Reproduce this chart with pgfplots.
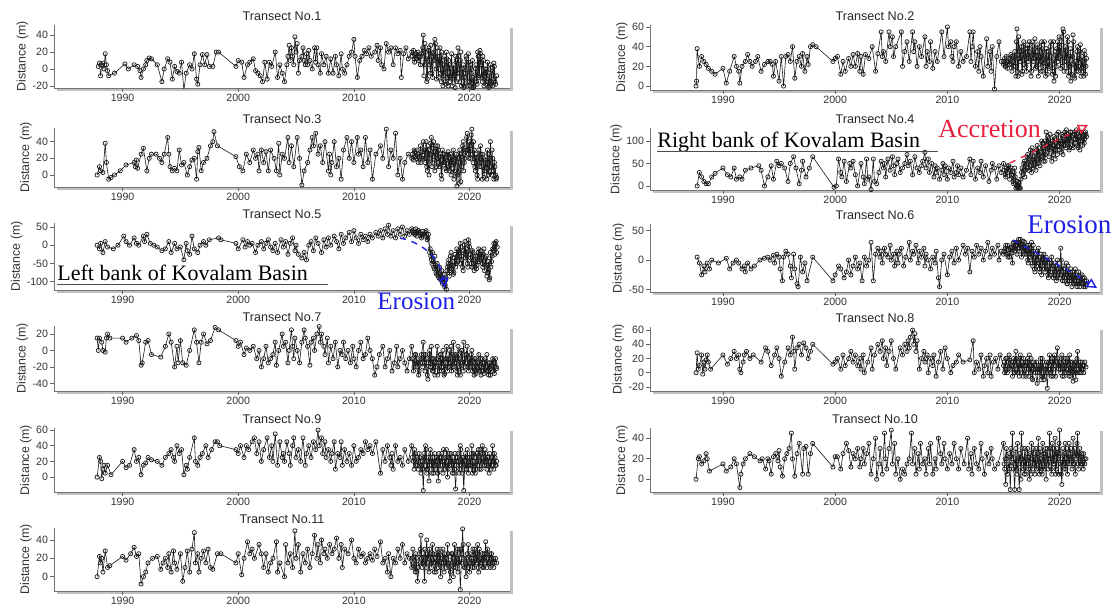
\documentclass[border=0pt]{standalone}
\usepackage{pgfplots}
\pgfplotsset{compat=1.18}
\usepackage{fontspec}
\setmainfont{Liberation Sans}
\newfontfamily\tnr{Liberation Serif}
\usetikzlibrary{shadows,arrows.meta}
\definecolor{erob}{RGB}{30,30,230}
\definecolor{accr}{RGB}{232,30,60}
\pgfplotsset{
  tr/.style={scale only axis, axis x line*=bottom, axis y line*=left,
    axis line style={black!55, line width=0.4pt},
    tick style={black!60, line width=0.3pt}, tick align=outside, major tick length=1.8pt,
    xtick={1990,2000,2010,2020},
    xticklabel style={/pgf/number format/1000 sep={}},
    /pgf/number format/assume math mode=true,
    tick label style={font=\fontsize{5.3}{6}\selectfont, inner sep=1pt, text=black!80},
    ylabel={Distance (m)},
    ylabel style={font=\fontsize{6.2}{7}\selectfont, inner sep=1pt, text=black!80},
    title style={font=\fontsize{6.3}{7}\selectfont, inner sep=1pt, text=black!85, yshift=-5.2pt},
    axis background/.style={fill=white, drop shadow={shadow xshift=1.3pt, shadow yshift=-1.3pt, opacity=0.45, fill=black!55}},
    anchor=south west},
  L/.style={tr, width=228pt, xmin=1984.07, xmax=2023.5},
  R/.style={tr, width=225pt, xmin=1983.5, xmax=2023.6},
  ser/.style={black!90, line width=0.3pt, mark=o, mark size=1.05pt, mark options={line width=0.35pt}}
}
\begin{document}
\begin{tikzpicture}
\path[use as bounding box] (0,0) rectangle (557.5pt,303.5pt);
% ---------- Transect 1
\begin{axis}[L, at={(27pt,259.5pt)}, height=31.5pt, ymin=-22.5, ymax=52, ytick={-20,0,20,40}, title={Transect No.1}]
\addplot[ser] coordinates {(1987.9,3)(1988.0,7)(1988.1,-8)(1988.2,5)(1988.3,7)(1988.4,0)(1988.5,18)(1988.6,5)(1988.7,-2)(1988.8,-8)(1989.3,-5)(1990.2,6)(1990.5,0)(1991.0,5)(1991.3,3)(1991.5,-2)(1991.6,-10)(1991.8,0)(1992.0,5)(1992.1,10)(1992.3,13)(1992.5,12)(1993.0,5)(1993.4,-15)(1993.6,0)(1993.9,12)(1994.1,8)(1994.3,-12)(1994.5,3)(1994.7,-3)(1994.9,-5)(1995.1,8)(1995.3,-25)(1995.5,-5)(1995.8,5)(1996.0,0)(1996.2,18)(1996.4,-12)(1996.5,-18)(1996.7,5)(1996.9,17)(1997.1,5)(1997.3,17)(1997.5,3)(1997.8,3)(1998.1,20)(1998.3,20)(1999.8,3)(2000.0,10)(2000.3,8)(2000.5,-10)(2000.8,5)(2001.0,8)(2001.3,12)(2001.5,-2)(2001.7,-5)(2001.9,-8)(2002.1,-15)(2002.3,8)(2002.5,-12)(2002.7,8)(2002.9,3)(2003.2,20)(2003.4,-10)(2003.6,5)(2003.8,-5)(2004.0,-15)(2004.2,5)(2004.3,15)(2004.4,28)(2004.5,10)(2004.6,25)(2004.7,15)(2004.8,5)(2004.9,38)(2005.0,20)(2005.1,30)(2005.2,-5)(2005.3,10)(2005.5,15)(2005.6,25)(2005.7,10)(2005.8,5)(2005.9,18)(2006.0,5)(2006.1,22)(2006.2,10)(2006.4,0)(2006.6,25)(2006.7,8)(2006.8,25)(2006.9,5)(2007.1,-5)(2007.2,18)(2007.4,5)(2007.6,15)(2007.8,-5)(2008.0,12)(2008.2,-5)(2008.4,15)(2008.5,5)(2008.7,-8)(2008.9,18)(2009.0,0)(2009.2,-5)(2009.4,5)(2009.6,15)(2009.8,20)(2010.0,35)(2010.1,15)(2010.3,-10)(2010.5,10)(2010.7,15)(2010.9,22)(2011.1,18)(2011.3,25)(2011.5,15)(2011.8,20)(2012.0,28)(2012.1,10)(2012.3,25)(2012.4,5)(2012.6,0)(2012.8,30)(2013.0,20)(2013.2,25)(2013.4,5)(2013.6,25)(2013.8,18)(2014.0,22)(2014.1,-10)(2014.3,18)(2014.5,25)(2014.7,12)(2015.0,20)(2015.2,12)(2015.4,18)(2015.6,10)(2015.8,15)(2016.0,40)(2016.1,5)(2016.2,20)(2016.3,-15)(2016.4,10)(2016.5,25)(2016.6,-5)(2016.7,15)(2016.8,-10)(2016.9,20)(2017.0,35)(2017.1,0)(2017.2,25)(2017.3,-10)(2017.4,15)(2017.5,-5)(2017.6,20)(2017.7,-20)(2017.8,5)(2017.9,-15)(2018.0,20)(2018.1,-10)(2018.2,10)(2018.3,-15)(2018.4,0)(2018.5,-20)(2018.6,5)(2018.7,-10)(2018.8,15)(2018.9,-15)(2019.0,25)(2019.1,-5)(2019.2,10)(2019.3,-20)(2019.4,0)(2019.5,-22)(2019.6,-10)(2019.7,15)(2019.8,-20)(2019.9,18)(2020.0,-15)(2020.1,5)(2020.2,-22)(2020.3,-10)(2020.4,-20)(2020.5,0)(2020.6,-15)(2020.7,20)(2020.8,-10)(2020.9,22)(2021.0,5)(2021.1,-15)(2021.2,10)(2021.3,-5)(2021.4,-18)(2021.5,0)(2021.6,-12)(2021.7,-20)(2021.8,5)(2021.9,-15)(2022.0,-20)(2022.1,7)(2022.2,-15)};
\addplot[ser] coordinates {(2015.05,15)(2015.15,22)(2015.25,8)(2015.35,18)(2015.45,12)(2015.55,20)(2015.65,14)(2015.75,5)(2015.85,18)(2015.95,25)(2016.05,-8)(2016.15,30)(2016.25,12)(2016.35,-12)(2016.45,22)(2016.55,5)(2016.65,28)(2016.75,-5)(2016.85,18)(2016.95,10)(2017.05,30)(2017.15,-12)(2017.25,15)(2017.35,5)(2017.45,25)(2017.55,-15)(2017.65,10)(2017.75,-8)(2017.85,15)(2017.95,-18)(2018.05,12)(2018.15,-20)(2018.25,5)(2018.35,-8)(2018.45,18)(2018.55,-12)(2018.65,0)(2018.75,-22)(2018.85,10)(2018.95,-5)(2019.05,15)(2019.15,-15)(2019.25,20)(2019.35,-10)(2019.45,5)(2019.55,-20)(2019.65,-5)(2019.75,12)(2019.85,-15)(2019.95,8)(2020.05,-20)(2020.15,-5)(2020.25,10)(2020.35,-22)(2020.45,-12)(2020.55,5)(2020.65,-18)(2020.75,15)(2020.85,-8)(2020.95,18)(2021.05,-10)(2021.15,15)(2021.25,-20)(2021.35,0)(2021.45,-15)(2021.55,8)(2021.65,-22)(2021.75,-5)(2021.85,-18)(2021.95,2)(2022.05,-12)(2022.15,3)(2022.25,-18)(2022.35,-8)};
\end{axis}
% ---------- Transect 3
\begin{axis}[L, at={(27pt,210pt)}, height=29.5pt, ymin=-14.4, ymax=56.4, ytick={0,20,40}, title={Transect No.3}]
\addplot[ser] coordinates {(1987.8,0)(1988.0,10)(1988.1,5)(1988.3,3)(1988.5,38)(1988.6,15)(1988.8,-5)(1989.0,-3)(1989.3,0)(1989.8,5)(1990.3,12)(1991.0,15)(1991.1,10)(1991.2,18)(1991.3,8)(1991.6,25)(1991.8,32)(1992.1,5)(1992.3,20)(1992.5,25)(1992.9,25)(1993.2,20)(1993.4,15)(1993.6,25)(1993.9,45)(1994.0,25)(1994.1,10)(1994.3,5)(1994.5,8)(1994.7,5)(1994.9,30)(1995.1,12)(1995.3,15)(1995.6,0)(1995.8,10)(1996.0,18)(1996.2,20)(1996.4,-5)(1996.5,28)(1996.6,33)(1996.8,5)(1997.0,15)(1997.3,20)(1997.6,35)(1997.8,40)(1997.9,52)(1998.2,35)(1999.8,22)(2000.1,10)(2000.4,5)(2000.7,25)(2001.0,15)(2001.3,30)(2001.5,20)(2001.7,25)(2001.8,5)(2002.0,30)(2002.2,15)(2002.4,28)(2002.6,5)(2002.8,30)(2003.1,20)(2003.3,5)(2003.5,38)(2003.6,0)(2003.8,25)(2004.0,20)(2004.3,45)(2004.4,15)(2004.6,35)(2004.8,10)(2005.1,45)(2005.3,20)(2005.5,-12)(2005.7,5)(2006.0,15)(2006.2,30)(2006.4,45)(2006.5,35)(2006.7,50)(2006.9,25)(2007.1,35)(2007.3,15)(2007.5,40)(2007.8,5)(2007.9,25)(2008.0,0)(2008.1,15)(2008.3,40)(2008.5,10)(2008.7,20)(2008.9,-5)(2009.1,30)(2009.4,45)(2009.6,20)(2009.8,40)(2010.0,15)(2010.3,45)(2010.4,25)(2010.6,30)(2010.8,10)(2011.0,45)(2011.2,15)(2011.4,30)(2011.6,-5)(2011.9,25)(2012.3,35)(2012.5,20)(2012.8,55)(2013.0,10)(2013.2,30)(2013.4,20)(2013.6,50)(2013.8,0)(2014.0,20)(2014.2,-5)(2014.4,15)(2014.7,25)(2015.0,20)(2015.2,30)(2015.4,20)(2015.6,25)(2015.8,15)(2016.0,40)(2016.1,20)(2016.2,30)(2016.3,10)(2016.4,35)(2016.5,0)(2016.6,25)(2016.7,45)(2016.8,15)(2016.9,40)(2017.0,5)(2017.1,35)(2017.2,20)(2017.3,30)(2017.4,10)(2017.5,25)(2017.6,-5)(2017.7,25)(2017.8,15)(2017.9,20)(2018.0,5)(2018.1,25)(2018.2,10)(2018.3,20)(2018.4,0)(2018.5,15)(2018.6,30)(2018.7,5)(2018.8,20)(2018.9,-13)(2019.0,20)(2019.1,-10)(2019.2,25)(2019.3,10)(2019.4,35)(2019.5,5)(2019.6,20)(2019.7,30)(2019.8,50)(2019.9,25)(2020.0,40)(2020.1,20)(2020.2,55)(2020.3,15)(2020.4,30)(2020.5,5)(2020.6,20)(2020.7,-5)(2020.8,30)(2020.9,10)(2021.0,25)(2021.1,-5)(2021.2,20)(2021.3,5)(2021.4,15)(2021.5,-5)(2021.6,25)(2021.7,5)(2021.8,40)(2021.9,0)(2022.0,20)(2022.1,-5)(2022.2,10)(2022.3,-5)};
\addplot[ser] coordinates {(2015.05,25)(2015.15,18)(2015.25,28)(2015.35,22)(2015.45,30)(2015.55,15)(2015.65,22)(2015.75,35)(2015.85,20)(2015.95,28)(2016.05,30)(2016.15,15)(2016.25,40)(2016.35,5)(2016.45,30)(2016.55,20)(2016.65,38)(2016.75,10)(2016.85,32)(2016.95,22)(2017.05,28)(2017.15,10)(2017.25,35)(2017.35,15)(2017.45,22)(2017.55,0)(2017.65,30)(2017.75,12)(2017.85,25)(2017.95,8)(2018.05,18)(2018.15,28)(2018.25,5)(2018.35,25)(2018.45,12)(2018.55,22)(2018.65,-5)(2018.75,18)(2018.85,25)(2018.95,0)(2019.05,15)(2019.15,30)(2019.25,-8)(2019.35,22)(2019.45,40)(2019.55,15)(2019.65,28)(2019.75,45)(2019.85,30)(2019.95,20)(2020.05,35)(2020.15,48)(2020.25,25)(2020.35,40)(2020.45,10)(2020.55,25)(2020.65,0)(2020.75,22)(2020.85,15)(2020.95,35)(2021.05,10)(2021.15,25)(2021.25,-3)(2021.35,18)(2021.45,8)(2021.55,30)(2021.65,0)(2021.75,20)(2021.85,10)(2021.95,30)(2022.05,5)(2022.15,15)(2022.25,0)(2022.35,-3)};
\end{axis}
% ---------- Transect 5
\begin{axis}[L, at={(27pt,158.5pt)}, height=33.5pt, ymin=-123, ymax=61, ytick={-100,-50,0,50}, title={Transect No.5}]
\addplot[ser] coordinates {(1987.8,0)(1988.0,-10)(1988.1,5)(1988.3,-20)(1988.5,10)(1988.7,-5)(1989.2,-10)(1989.6,0)(1990.1,25)(1990.3,10)(1990.6,0)(1991.0,20)(1991.2,5)(1991.4,0)(1991.8,25)(1991.9,10)(1992.1,30)(1992.4,5)(1992.7,0)(1993.0,-5)(1993.4,-15)(1993.7,-10)(1994.0,10)(1994.2,-20)(1994.5,5)(1994.7,-10)(1995.0,-5)(1995.3,-40)(1995.5,5)(1995.6,-15)(1995.8,-25)(1996.0,25)(1996.2,-10)(1996.5,-20)(1996.7,0)(1997.0,10)(1997.2,0)(1997.5,15)(1998.3,20)(1998.5,15)(1999.8,5)(2000.0,-10)(2000.4,15)(2000.6,-5)(2000.8,10)(2001.0,0)(2001.2,5)(2001.5,-20)(2001.7,0)(2002.0,10)(2002.2,-10)(2002.4,5)(2002.6,15)(2002.8,-5)(2003.0,-15)(2003.2,5)(2003.4,-20)(2003.7,15)(2003.9,-5)(2004.1,10)(2004.3,-25)(2004.5,5)(2004.7,20)(2004.9,-15)(2005.0,0)(2005.2,-25)(2005.5,-35)(2005.7,-20)(2005.9,-40)(2006.1,0)(2006.3,10)(2006.5,-15)(2006.7,20)(2006.9,5)(2007.2,-20)(2007.4,15)(2007.6,-5)(2007.8,20)(2008.0,0)(2008.3,25)(2008.5,10)(2008.7,-10)(2008.9,30)(2009.1,5)(2009.3,20)(2009.6,35)(2009.8,10)(2010.0,40)(2010.2,20)(2010.4,5)(2010.6,30)(2010.8,15)(2011.0,25)(2011.2,10)(2011.4,30)(2011.6,20)(2011.9,35)(2012.1,25)(2012.3,40)(2012.5,20)(2012.7,45)(2012.9,30)(2013.0,55)(2013.2,25)(2013.4,40)(2013.6,20)(2013.8,45)(2014.0,30)(2014.2,50)(2014.4,25)(2014.6,40)(2014.8,30)(2015.0,45)(2015.3,30)(2015.6,40)(2015.9,25)(2016.2,35)(2016.4,20)(2016.6,-10)(2016.7,-40)(2016.8,-20)(2016.9,-60)(2017.0,-30)(2017.1,-75)(2017.2,-50)(2017.3,-85)(2017.4,-60)(2017.5,-95)(2017.6,-70)(2017.7,-100)(2017.8,-80)(2017.9,-110)(2018.0,-121)(2018.1,-60)(2018.2,-40)(2018.3,-70)(2018.4,-20)(2018.5,-55)(2018.6,-80)(2018.7,-35)(2018.8,-60)(2018.9,-10)(2019.0,-45)(2019.1,-20)(2019.2,5)(2019.3,-30)(2019.4,-60)(2019.5,-15)(2019.6,10)(2019.7,-25)(2019.8,-50)(2019.9,15)(2020.0,-5)(2020.1,-35)(2020.2,-60)(2020.3,-20)(2020.4,-70)(2020.5,-45)(2020.6,-65)(2020.7,-30)(2020.8,-10)(2020.9,-40)(2021.0,-15)(2021.1,-50)(2021.2,-25)(2021.3,-70)(2021.4,-35)(2021.5,-85)(2021.6,-55)(2021.7,-95)(2021.8,-20)(2021.9,-45)(2022.0,-10)(2022.1,5)(2022.2,-25)(2022.3,10)(2022.4,-5)};
\addplot[ser] coordinates {(2015.05,40)(2015.15,35)(2015.25,30)(2015.35,45)(2015.45,25)(2015.55,40)(2015.65,35)(2015.75,30)(2015.85,20)(2015.95,38)(2016.05,30)(2016.15,25)(2016.25,40)(2016.35,15)(2016.45,30)(2016.55,-20)(2016.65,-30)(2016.75,-50)(2016.85,-45)(2016.95,-65)(2017.05,-55)(2017.15,-80)(2017.25,-65)(2017.35,-90)(2017.45,-75)(2017.55,-85)(2017.65,-105)(2017.75,-90)(2017.85,-115)(2017.95,-95)(2018.05,-70)(2018.15,-50)(2018.25,-85)(2018.35,-30)(2018.45,-65)(2018.55,-45)(2018.65,-75)(2018.75,-25)(2018.85,-50)(2018.95,-30)(2019.05,-15)(2019.15,-50)(2019.25,-5)(2019.35,-40)(2019.45,-70)(2019.55,0)(2019.65,-35)(2019.75,-10)(2019.85,-60)(2019.95,5)(2020.05,-25)(2020.15,-50)(2020.25,-15)(2020.35,-40)(2020.45,-60)(2020.55,-30)(2020.65,-55)(2020.75,-20)(2020.85,-45)(2020.95,-25)(2021.05,-35)(2021.15,-60)(2021.25,-10)(2021.35,-55)(2021.45,-30)(2021.55,-75)(2021.65,-45)(2021.75,-90)(2021.85,-60)(2021.95,-30)(2022.05,-15)(2022.15,-5)(2022.25,5)(2022.35,-20)};
\end{axis}
% ---------- Transect 7
\begin{axis}[L, at={(27pt,108pt)}, height=32.5pt, ymin=-49.3, ymax=29.7, ytick={-40,-20,0,20}, title={Transect No.7}]
\addplot[ser] coordinates {(1987.8,15)(1987.9,0)(1988.0,15)(1988.2,10)(1988.3,0)(1988.5,-2)(1988.6,15)(1988.7,20)(1988.9,15)(1990.0,15)(1990.3,10)(1990.8,15)(1991.2,18)(1991.4,12)(1991.6,-18)(1991.7,-15)(1992.0,10)(1992.2,12)(1992.5,-5)(1993.3,-8)(1993.7,5)(1994.0,20)(1994.2,10)(1994.5,-20)(1994.7,5)(1994.8,-15)(1995.0,12)(1995.2,-15)(1995.5,-18)(1995.8,0)(1996.2,25)(1996.4,10)(1996.6,-15)(1996.8,10)(1997.0,20)(1997.3,8)(1997.6,12)(1998.0,28)(1998.3,25)(1999.8,12)(2000.0,5)(2000.2,10)(2000.5,-5)(2000.7,3)(2001.0,0)(2001.3,5)(2001.6,-10)(2001.8,0)(2002.0,-20)(2002.2,-10)(2002.4,5)(2002.6,-15)(2002.8,-10)(2003.0,-5)(2003.2,10)(2003.3,-18)(2003.5,0)(2003.8,20)(2003.9,5)(2004.1,10)(2004.3,-15)(2004.4,0)(2004.6,25)(2004.7,5)(2004.8,-10)(2004.9,15)(2005.1,0)(2005.3,-15)(2005.5,10)(2005.7,25)(2005.8,15)(2006.0,5)(2006.2,-18)(2006.3,10)(2006.5,15)(2006.6,0)(2006.8,20)(2007.0,29)(2007.1,10)(2007.2,20)(2007.4,5)(2007.5,-5)(2007.7,15)(2007.8,-15)(2008.0,5)(2008.2,-10)(2008.4,10)(2008.6,-20)(2008.8,0)(2009.0,-5)(2009.1,10)(2009.3,-10)(2009.5,0)(2009.7,-15)(2009.9,5)(2010.0,-10)(2010.2,-20)(2010.4,0)(2010.6,10)(2010.8,-10)(2011.0,-5)(2011.2,15)(2011.4,0)(2011.6,-10)(2011.8,-30)(2012.0,-20)(2012.2,-5)(2012.5,5)(2012.7,-20)(2012.9,-10)(2013.1,0)(2013.3,-25)(2013.5,-15)(2013.7,5)(2013.8,-20)(2014.0,-10)(2014.2,0)(2014.4,-15)(2014.6,-25)(2014.8,-10)(2015.0,5)(2015.2,-20)(2015.3,-5)(2015.5,-15)(2015.6,-30)(2015.8,-10)(2016.0,10)(2016.1,-15)(2016.2,-5)(2016.4,-35)(2016.5,-5)(2016.6,-20)(2016.7,5)(2016.8,-25)(2016.9,-10)(2017.0,-30)(2017.2,5)(2017.3,-15)(2017.4,-25)(2017.5,-5)(2017.6,-20)(2017.7,0)(2017.8,-30)(2017.9,-10)(2018.0,5)(2018.1,-25)(2018.2,-10)(2018.3,-15)(2018.4,5)(2018.5,-20)(2018.6,10)(2018.7,-15)(2018.8,-5)(2018.9,-25)(2019.0,5)(2019.1,-10)(2019.2,-30)(2019.3,0)(2019.4,-15)(2019.5,10)(2019.6,-20)(2019.7,-5)(2019.8,5)(2019.9,-25)(2020.0,-10)(2020.1,-15)(2020.2,0)(2020.3,-20)(2020.4,-30)(2020.5,-10)(2020.6,-25)(2020.7,-15)(2020.8,-5)(2020.9,-20)(2021.0,-30)(2021.1,-10)(2021.2,-25)(2021.3,-15)(2021.4,-20)(2021.5,-5)(2021.6,-25)(2021.7,-15)(2021.8,-30)(2021.9,-20)(2022.0,-10)(2022.1,-25)(2022.2,-15)(2022.3,-20)};
\addplot[ser] coordinates {(2015.05,-10)(2015.15,-25)(2015.25,-15)(2015.35,-5)(2015.45,-20)(2015.55,-10)(2015.65,-25)(2015.75,-15)(2015.85,-5)(2015.95,-20)(2016.05,-5)(2016.15,-25)(2016.25,-10)(2016.35,-30)(2016.45,-15)(2016.55,0)(2016.65,-20)(2016.75,-10)(2016.85,-25)(2016.95,-15)(2017.05,-20)(2017.15,-10)(2017.25,-30)(2017.35,-15)(2017.45,-5)(2017.55,-25)(2017.65,-10)(2017.75,-20)(2017.85,-28)(2017.95,-15)(2018.05,-10)(2018.15,-20)(2018.25,0)(2018.35,-15)(2018.45,-25)(2018.55,-5)(2018.65,-20)(2018.75,-10)(2018.85,-15)(2018.95,-30)(2019.05,-5)(2019.15,-20)(2019.25,-15)(2019.35,0)(2019.45,-25)(2019.55,-10)(2019.65,-15)(2019.75,-5)(2019.85,-20)(2019.95,-10)(2020.05,-20)(2020.15,-5)(2020.25,-25)(2020.35,-15)(2020.45,-10)(2020.55,-28)(2020.65,-20)(2020.75,-15)(2020.85,-25)(2020.95,-10)(2021.05,-20)(2021.15,-15)(2021.25,-28)(2021.35,-10)(2021.45,-25)(2021.55,-20)(2021.65,-30)(2021.75,-15)(2021.85,-22)(2021.95,-18)(2022.05,-15)(2022.15,-28)(2022.25,-10)(2022.35,-22)};
\end{axis}
% ---------- Transect 9
\begin{axis}[L, at={(27pt,57.5pt)}, height=32pt, ymin=-19, ymax=62.5, ytick={0,20,40,60}, title={Transect No.9}]
\addplot[ser] coordinates {(1987.8,0)(1988.0,25)(1988.1,20)(1988.2,-2)(1988.3,10)(1988.4,15)(1988.5,5)(1988.7,15)(1989.0,3)(1990.0,20)(1990.3,12)(1990.6,15)(1991.0,35)(1991.2,20)(1991.4,25)(1991.6,3)(1991.8,15)(1992.0,18)(1992.2,25)(1992.5,22)(1993.0,20)(1993.4,15)(1993.7,25)(1994.0,30)(1994.2,35)(1994.4,25)(1994.5,20)(1994.7,40)(1994.9,30)(1995.1,35)(1995.3,3)(1995.5,15)(1995.6,10)(1995.8,25)(1996.2,50)(1996.3,20)(1996.5,15)(1996.7,25)(1996.9,30)(1997.2,40)(1997.4,25)(1997.7,35)(1998.0,45)(1998.2,45)(1998.4,40)(1999.8,35)(2000.0,30)(2000.2,40)(2000.5,25)(2000.7,40)(2000.9,35)(2001.2,45)(2001.4,50)(2001.6,30)(2001.8,45)(2002.0,20)(2002.2,35)(2002.5,50)(2002.7,25)(2002.9,40)(2003.0,20)(2003.2,55)(2003.4,15)(2003.6,45)(2003.8,25)(2003.9,30)(2004.0,20)(2004.2,45)(2004.4,30)(2004.5,15)(2004.7,40)(2004.8,50)(2005.0,25)(2005.2,35)(2005.4,20)(2005.6,50)(2005.8,15)(2005.9,30)(2006.1,40)(2006.3,25)(2006.5,45)(2006.7,35)(2006.9,60)(2007.0,40)(2007.2,50)(2007.3,30)(2007.5,45)(2007.6,25)(2007.8,35)(2008.0,20)(2008.1,30)(2008.3,45)(2008.4,10)(2008.6,30)(2008.8,25)(2008.9,45)(2009.0,15)(2009.2,35)(2009.4,20)(2009.6,30)(2009.8,15)(2010.0,40)(2010.2,20)(2010.4,25)(2010.6,35)(2010.8,30)(2011.0,45)(2011.2,35)(2011.4,40)(2011.6,30)(2011.9,45)(2012.3,5)(2012.5,35)(2012.7,20)(2012.9,40)(2013.1,25)(2013.2,15)(2013.3,30)(2013.4,10)(2013.6,40)(2013.8,20)(2014.0,25)(2014.2,15)(2014.4,35)(2014.7,20)(2015.0,40)(2015.2,10)(2015.3,30)(2015.5,15)(2015.7,25)(2015.8,5)(2015.9,20)(2016.0,-17)(2016.1,25)(2016.2,40)(2016.3,5)(2016.4,20)(2016.5,-5)(2016.6,35)(2016.7,15)(2016.8,25)(2016.9,5)(2017.0,30)(2017.1,10)(2017.2,20)(2017.3,-5)(2017.4,25)(2017.5,15)(2017.6,30)(2017.7,5)(2017.8,20)(2017.9,10)(2018.0,35)(2018.1,0)(2018.2,25)(2018.3,15)(2018.4,30)(2018.5,5)(2018.6,20)(2018.7,10)(2018.8,-15)(2018.9,20)(2019.0,30)(2019.1,5)(2019.2,40)(2019.3,15)(2019.4,25)(2019.5,-17)(2019.6,20)(2019.7,10)(2019.8,35)(2019.9,5)(2020.0,25)(2020.1,15)(2020.2,40)(2020.3,10)(2020.4,20)(2020.5,5)(2020.6,30)(2020.7,15)(2020.8,25)(2020.9,35)(2021.0,10)(2021.1,40)(2021.2,20)(2021.3,15)(2021.4,30)(2021.5,10)(2021.6,25)(2021.7,5)(2021.8,20)(2021.9,15)(2022.0,40)(2022.1,10)(2022.2,25)(2022.3,15)};
\addplot[ser] coordinates {(2015.05,25)(2015.15,20)(2015.25,35)(2015.35,15)(2015.45,25)(2015.55,10)(2015.65,30)(2015.75,20)(2015.85,15)(2015.95,10)(2016.05,30)(2016.15,15)(2016.25,35)(2016.35,10)(2016.45,25)(2016.55,15)(2016.65,30)(2016.75,5)(2016.85,20)(2016.95,15)(2017.05,20)(2017.15,25)(2017.25,5)(2017.35,30)(2017.45,10)(2017.55,25)(2017.65,20)(2017.75,35)(2017.85,15)(2017.95,25)(2018.05,20)(2018.15,10)(2018.25,30)(2018.35,20)(2018.45,15)(2018.55,25)(2018.65,5)(2018.75,30)(2018.85,15)(2018.95,25)(2019.05,20)(2019.15,10)(2019.25,35)(2019.35,5)(2019.45,25)(2019.55,15)(2019.65,30)(2019.75,10)(2019.85,25)(2019.95,15)(2020.05,15)(2020.15,30)(2020.25,5)(2020.35,30)(2020.45,25)(2020.55,10)(2020.65,20)(2020.75,35)(2020.85,10)(2020.95,20)(2021.05,25)(2021.15,30)(2021.25,15)(2021.35,35)(2021.45,20)(2021.55,25)(2021.65,15)(2021.75,30)(2021.85,10)(2021.95,25)(2022.05,20)(2022.15,30)(2022.25,15)(2022.35,20)};
\end{axis}
% ---------- Transect 11
\begin{axis}[L, at={(27pt,8pt)}, height=31.5pt, ymin=-15.6, ymax=53, ytick={0,20,40}, title={Transect No.11}]
\addplot[ser] coordinates {(1987.8,0)(1988.0,22)(1988.1,15)(1988.2,20)(1988.3,5)(1988.5,28)(1988.7,10)(1988.9,12)(1990.0,22)(1990.3,18)(1990.7,25)(1991.0,32)(1991.2,22)(1991.4,25)(1991.6,-8)(1991.8,0)(1992.0,5)(1992.2,15)(1992.6,20)(1993.0,22)(1993.3,8)(1993.5,15)(1993.7,20)(1993.9,10)(1994.0,25)(1994.2,5)(1994.4,28)(1994.5,15)(1994.7,8)(1995.0,25)(1995.2,-5)(1995.4,10)(1995.6,28)(1995.8,5)(1996.0,30)(1996.2,48)(1996.3,15)(1996.5,25)(1996.6,5)(1996.8,20)(1997.0,28)(1997.2,15)(1997.4,30)(1997.6,10)(1997.8,8)(1998.2,25)(1998.5,25)(1999.8,15)(2000.0,25)(2000.3,2)(2000.5,20)(2000.8,38)(2001.0,25)(2001.2,30)(2001.4,20)(2001.8,35)(2002.0,25)(2002.2,10)(2002.4,25)(2002.6,5)(2002.8,15)(2003.0,20)(2003.3,38)(2003.4,5)(2003.6,15)(2004.0,0)(2004.1,35)(2004.3,15)(2004.5,25)(2004.7,10)(2004.9,50)(2005.0,20)(2005.2,35)(2005.4,5)(2005.6,25)(2005.8,15)(2006.0,30)(2006.2,10)(2006.4,25)(2006.6,45)(2006.8,20)(2006.9,35)(2007.1,15)(2007.2,40)(2007.4,25)(2007.5,30)(2007.7,20)(2007.9,35)(2008.1,25)(2008.3,30)(2008.5,42)(2008.7,20)(2008.9,35)(2009.0,10)(2009.2,30)(2009.5,25)(2009.8,40)(2010.0,20)(2010.2,15)(2010.4,30)(2010.6,22)(2010.8,25)(2011.0,15)(2011.2,20)(2011.4,25)(2011.6,18)(2011.8,30)(2012.0,22)(2012.3,38)(2012.5,15)(2012.7,20)(2012.9,5)(2013.0,25)(2013.2,0)(2013.4,20)(2013.6,15)(2013.8,30)(2014.0,20)(2014.2,35)(2014.4,15)(2014.6,25)(2014.8,20)(2015.0,10)(2015.1,30)(2015.3,5)(2015.4,20)(2015.5,-5)(2015.7,15)(2015.8,45)(2015.9,10)(2016.0,25)(2016.1,-5)(2016.2,20)(2016.3,40)(2016.4,15)(2016.5,5)(2016.6,25)(2016.7,10)(2016.8,35)(2016.9,15)(2017.0,20)(2017.1,5)(2017.2,30)(2017.3,10)(2017.4,25)(2017.5,0)(2017.6,15)(2017.7,30)(2017.8,5)(2017.9,20)(2018.0,10)(2018.1,35)(2018.2,15)(2018.3,-5)(2018.4,15)(2018.5,25)(2018.6,0)(2018.7,35)(2018.8,10)(2018.9,20)(2019.0,5)(2019.1,30)(2019.2,-14)(2019.3,15)(2019.4,52)(2019.5,20)(2019.6,10)(2019.7,0)(2019.8,25)(2019.9,35)(2020.0,5)(2020.1,15)(2020.2,20)(2020.3,30)(2020.4,10)(2020.5,25)(2020.6,15)(2020.7,35)(2020.8,5)(2020.9,20)(2021.0,15)(2021.1,25)(2021.2,10)(2021.3,20)(2021.4,38)(2021.5,10)(2021.6,20)(2021.7,15)(2021.8,10)(2021.9,25)(2022.0,15)(2022.1,10)};
\addplot[ser] coordinates {(2015.05,20)(2015.15,15)(2015.25,10)(2015.35,25)(2015.45,5)(2015.55,10)(2015.65,25)(2015.75,30)(2015.85,20)(2015.95,15)(2016.05,15)(2016.15,30)(2016.25,10)(2016.35,25)(2016.45,20)(2016.55,30)(2016.65,15)(2016.75,20)(2016.85,25)(2016.95,5)(2017.05,15)(2017.15,25)(2017.25,15)(2017.35,20)(2017.45,30)(2017.55,10)(2017.65,20)(2017.75,15)(2017.85,25)(2017.95,15)(2018.05,20)(2018.15,25)(2018.25,10)(2018.35,5)(2018.45,25)(2018.55,20)(2018.65,10)(2018.75,25)(2018.85,15)(2018.95,30)(2019.05,15)(2019.15,20)(2019.25,30)(2019.35,25)(2019.45,35)(2019.55,10)(2019.65,15)(2019.75,20)(2019.85,10)(2019.95,15)(2020.05,25)(2020.15,20)(2020.25,10)(2020.35,15)(2020.45,30)(2020.55,20)(2020.65,25)(2020.75,10)(2020.85,30)(2020.95,15)(2021.05,20)(2021.15,10)(2021.25,25)(2021.35,15)(2021.45,25)(2021.55,30)(2021.65,15)(2021.75,25)(2021.85,20)(2021.95,15)(2022.05,20)(2022.15,15)(2022.25,20)(2022.35,15)};
\end{axis}
% ---------- Transect 2
\begin{axis}[R, at={(325pt,258.5pt)}, height=32.5pt, ymin=-4, ymax=62, ytick={0,20,40,60}, title={Transect No.2}]
\addplot[ser] coordinates {(1987.6,0)(1987.65,5)(1987.7,38)(1987.9,20)(1988.1,30)(1988.3,25)(1988.5,22)(1988.7,18)(1989.0,15)(1989.3,12)(1990.0,18)(1990.3,3)(1990.6,15)(1991.0,30)(1991.2,20)(1991.4,15)(1991.5,3)(1991.7,20)(1992.0,25)(1992.2,32)(1992.4,25)(1992.6,20)(1992.9,25)(1993.1,30)(1993.4,15)(1993.7,22)(1994.0,25)(1994.2,25)(1994.4,22)(1994.5,10)(1994.7,25)(1995.0,5)(1995.2,30)(1995.4,0)(1995.6,30)(1995.8,32)(1996.0,25)(1996.2,40)(1996.4,8)(1996.6,25)(1996.8,30)(1997.0,20)(1997.1,33)(1997.3,15)(1997.5,30)(1997.6,22)(1997.8,40)(1998.0,42)(1998.3,40)(1999.8,25)(2000.0,28)(2000.2,30)(2000.5,12)(2000.7,25)(2000.9,15)(2001.2,28)(2001.4,20)(2001.6,32)(2001.8,20)(2002.0,33)(2002.2,15)(2002.3,30)(2002.5,12)(2002.7,32)(2003.0,28)(2003.3,40)(2003.6,15)(2003.8,33)(2004.1,55)(2004.2,30)(2004.3,35)(2004.5,25)(2004.8,55)(2004.9,40)(2005.1,50)(2005.2,30)(2005.4,40)(2005.9,55)(2006.0,20)(2006.2,35)(2006.4,45)(2006.6,25)(2006.9,55)(2007.0,35)(2007.1,45)(2007.3,20)(2007.5,40)(2007.7,30)(2008.0,50)(2008.1,20)(2008.2,35)(2008.4,25)(2008.5,45)(2008.7,18)(2008.9,35)(2009.1,25)(2009.5,55)(2009.7,30)(2010.0,60)(2010.1,40)(2010.3,45)(2010.4,30)(2010.5,25)(2010.6,40)(2010.8,45)(2011.0,20)(2011.2,35)(2011.4,25)(2011.7,30)(2012.0,55)(2012.1,25)(2012.2,40)(2012.3,55)(2012.5,20)(2012.7,35)(2012.8,15)(2012.9,40)(2013.0,30)(2013.2,10)(2013.5,48)(2013.6,20)(2013.8,35)(2013.9,15)(2014.0,40)(2014.2,-3)(2014.4,30)(2014.6,45)(2014.8,25)(2015.0,22)(2015.1,28)(2015.2,20)(2015.4,25)(2015.5,22)(2015.7,30)(2015.9,20)(2016.0,35)(2016.1,10)(2016.2,58)(2016.3,10)(2016.4,35)(2016.5,25)(2016.6,40)(2016.7,15)(2016.8,45)(2016.9,30)(2017.0,20)(2017.1,38)(2017.2,25)(2017.3,45)(2017.4,30)(2017.5,15)(2017.6,40)(2017.7,28)(2017.8,48)(2017.9,20)(2018.0,35)(2018.1,10)(2018.2,40)(2018.3,25)(2018.4,45)(2018.5,15)(2018.6,30)(2018.7,20)(2018.8,38)(2018.9,12)(2019.0,35)(2019.1,20)(2019.2,45)(2019.3,25)(2019.4,15)(2019.5,5)(2019.6,35)(2019.7,20)(2019.8,45)(2019.9,28)(2020.0,40)(2020.1,18)(2020.2,50)(2020.3,58)(2020.4,15)(2020.5,40)(2020.6,25)(2020.7,50)(2020.8,10)(2020.9,30)(2021.0,5)(2021.1,22)(2021.2,52)(2021.3,10)(2021.4,25)(2021.5,15)(2021.6,40)(2021.7,20)(2021.8,35)(2021.9,10)(2022.0,30)(2022.1,15)(2022.2,36)(2022.3,12)(2022.4,28)};
\addplot[ser] coordinates {(2015.05,25)(2015.15,20)(2015.25,30)(2015.35,18)(2015.45,28)(2015.55,22)(2015.65,32)(2015.75,15)(2015.85,25)(2015.95,30)(2016.05,20)(2016.15,45)(2016.25,15)(2016.35,50)(2016.45,28)(2016.55,35)(2016.65,12)(2016.75,40)(2016.85,22)(2016.95,38)(2017.05,15)(2017.15,42)(2017.25,28)(2017.35,35)(2017.45,10)(2017.55,45)(2017.65,25)(2017.75,38)(2017.85,18)(2017.95,30)(2018.05,42)(2018.15,22)(2018.25,30)(2018.35,15)(2018.45,38)(2018.55,28)(2018.65,45)(2018.75,10)(2018.85,35)(2018.95,25)(2019.05,18)(2019.15,40)(2019.25,30)(2019.35,12)(2019.45,45)(2019.55,22)(2019.65,10)(2019.75,38)(2019.85,25)(2019.95,50)(2020.05,30)(2020.15,45)(2020.25,20)(2020.35,55)(2020.45,25)(2020.55,35)(2020.65,15)(2020.75,45)(2020.85,20)(2020.95,38)(2021.05,12)(2021.15,30)(2021.25,45)(2021.35,8)(2021.45,20)(2021.55,35)(2021.65,15)(2021.75,28)(2021.85,42)(2021.95,18)(2022.05,25)(2022.15,10)(2022.25,32)(2022.35,20)};
\end{axis}
% ---------- Transect 4
\begin{axis}[R, at={(325pt,208.5pt)}, height=31pt, ymin=-9, ymax=129, ytick={0,50,100}, title={Transect No.4}]
\addplot[ser] coordinates {(1987.7,0)(1987.9,30)(1988.1,20)(1988.3,10)(1988.5,5)(1988.7,5)(1989.0,20)(1989.3,28)(1990.0,40)(1990.4,25)(1990.7,20)(1991.0,40)(1991.2,15)(1991.5,20)(1991.7,15)(1992.0,35)(1992.5,40)(1993.2,45)(1993.4,35)(1993.7,0)(1994.0,20)(1994.3,45)(1994.5,15)(1994.8,55)(1995.0,45)(1995.2,50)(1995.5,40)(1995.8,10)(1996.0,50)(1996.3,65)(1996.5,40)(1996.8,5)(1997.0,35)(1997.1,55)(1997.4,20)(1997.7,40)(1998.0,65)(1999.9,-3)(2000.1,0)(2000.3,60)(2000.5,30)(2000.6,20)(2000.8,55)(2001.0,10)(2001.3,50)(2001.4,40)(2001.6,55)(2001.8,25)(2002.0,0)(2002.3,50)(2002.5,20)(2002.6,5)(2002.8,60)(2002.9,15)(2003.0,20)(2003.2,-8)(2003.4,60)(2003.5,10)(2003.7,5)(2003.9,30)(2004.1,55)(2004.3,40)(2004.4,50)(2004.5,20)(2004.7,60)(2004.9,35)(2005.1,65)(2005.2,45)(2005.3,25)(2005.5,50)(2005.6,60)(2005.8,30)(2006.0,40)(2006.2,50)(2006.4,70)(2006.5,45)(2006.7,55)(2006.9,25)(2007.1,65)(2007.3,40)(2007.5,30)(2007.7,45)(2007.8,55)(2008.0,75)(2008.1,40)(2008.3,60)(2008.4,30)(2008.6,50)(2008.8,20)(2008.9,45)(2009.0,30)(2009.1,40)(2009.3,15)(2009.5,35)(2009.6,50)(2009.7,25)(2009.8,45)(2010.0,15)(2010.1,40)(2010.3,30)(2010.5,55)(2010.6,20)(2010.8,30)(2010.9,45)(2011.0,25)(2011.2,40)(2011.4,20)(2011.7,35)(2012.0,60)(2012.1,25)(2012.3,55)(2012.5,15)(2012.7,40)(2012.9,30)(2013.0,55)(2013.2,20)(2013.4,45)(2013.7,10)(2013.9,35)(2014.0,50)(2014.2,40)(2014.4,15)(2014.6,45)(2014.8,30)(2015.0,50)(2015.2,20)(2015.4,45)(2015.6,35)(2015.9,5)(2016.0,40)(2016.1,-5)(2016.2,10)(2016.3,-5)(2016.4,5)(2016.5,-5)(2016.6,30)(2016.8,50)(2016.9,20)(2017.1,65)(2017.2,40)(2017.4,80)(2017.5,30)(2017.6,60)(2017.7,45)(2017.8,75)(2017.9,35)(2018.0,90)(2018.1,50)(2018.2,70)(2018.3,60)(2018.4,100)(2018.5,65)(2018.6,85)(2018.7,55)(2018.8,120)(2018.9,75)(2019.0,105)(2019.1,80)(2019.2,95)(2019.3,55)(2019.4,90)(2019.5,110)(2019.6,60)(2019.7,95)(2019.8,70)(2019.9,120)(2020.0,80)(2020.1,100)(2020.2,115)(2020.3,70)(2020.4,105)(2020.5,90)(2020.6,125)(2020.7,95)(2020.8,110)(2020.9,85)(2021.0,120)(2021.1,100)(2021.2,85)(2021.3,115)(2021.4,105)(2021.5,125)(2021.6,90)(2021.7,110)(2021.8,80)(2021.9,120)(2022.0,100)(2022.1,115)(2022.2,95)(2022.3,120)(2022.4,110)};
\addplot[ser] coordinates {(2015.05,35)(2015.15,25)(2015.25,40)(2015.35,30)(2015.45,45)(2015.55,15)(2015.65,40)(2015.75,25)(2015.85,10)(2015.95,30)(2016.05,20)(2016.15,0)(2016.25,-3)(2016.35,8)(2016.45,-4)(2016.55,15)(2016.65,40)(2016.75,25)(2016.85,55)(2016.95,35)(2017.05,50)(2017.15,70)(2017.25,35)(2017.35,60)(2017.45,45)(2017.55,85)(2017.65,40)(2017.75,65)(2017.85,50)(2017.95,80)(2018.05,60)(2018.15,85)(2018.25,45)(2018.35,75)(2018.45,95)(2018.55,55)(2018.65,100)(2018.75,70)(2018.85,90)(2018.95,110)(2019.05,65)(2019.15,115)(2019.25,85)(2019.35,100)(2019.45,70)(2019.55,105)(2019.65,80)(2019.75,115)(2019.85,90)(2019.95,100)(2020.05,95)(2020.15,75)(2020.25,110)(2020.35,90)(2020.45,120)(2020.55,85)(2020.65,115)(2020.75,100)(2020.85,80)(2020.95,120)(2021.05,110)(2021.15,90)(2021.25,105)(2021.35,120)(2021.45,95)(2021.55,115)(2021.65,85)(2021.75,110)(2021.85,100)(2021.95,118)(2022.05,90)(2022.15,110)(2022.25,105)(2022.35,115)};
\end{axis}
% ---------- Transect 6
\begin{axis}[R, at={(325pt,157.5pt)}, height=34pt, ymin=-54, ymax=61, ytick={-50,0,50}, title={Transect No.6}]
\addplot[ser] coordinates {(1987.7,5)(1987.9,-5)(1988.1,-25)(1988.3,-10)(1988.4,-20)(1988.6,-5)(1988.8,-15)(1989.0,0)(1989.6,-5)(1990.3,3)(1990.6,-15)(1990.9,-5)(1991.2,0)(1991.4,-5)(1991.7,-15)(1991.9,-10)(1992.0,-20)(1992.2,-5)(1992.5,-15)(1992.8,-10)(1993.3,0)(1993.7,3)(1994.0,5)(1994.2,0)(1994.5,8)(1994.6,-5)(1994.8,10)(1995.0,5)(1995.1,-15)(1995.3,-35)(1995.4,5)(1995.6,15)(1995.8,10)(1996.0,-10)(1996.1,-30)(1996.3,10)(1996.4,-15)(1996.6,-40)(1996.7,-45)(1996.9,5)(1997.1,-20)(1997.3,-5)(1997.5,-35)(1998.0,5)(1999.8,-35)(2000.0,-25)(2000.3,-10)(2000.5,-15)(2000.8,-30)(2001.0,-20)(2001.2,0)(2001.4,-25)(2001.6,-10)(2001.8,5)(2002.0,-15)(2002.2,-5)(2002.4,-35)(2002.6,5)(2002.8,-10)(2003.0,0)(2003.2,30)(2003.4,-35)(2003.6,10)(2003.8,20)(2004.0,5)(2004.1,15)(2004.2,-5)(2004.4,20)(2004.5,10)(2004.7,5)(2004.9,25)(2005.0,0)(2005.2,10)(2005.3,-10)(2005.5,15)(2005.6,-5)(2005.7,10)(2005.9,20)(2006.1,-10)(2006.3,5)(2006.6,30)(2006.7,0)(2006.9,15)(2007.0,10)(2007.2,25)(2007.4,-5)(2007.5,15)(2007.7,5)(2007.9,20)(2008.0,-10)(2008.1,10)(2008.3,0)(2008.5,-15)(2008.7,5)(2008.9,-5)(2009.0,15)(2009.2,-30)(2009.3,-45)(2009.5,0)(2009.7,10)(2010.0,-25)(2010.2,5)(2010.4,15)(2010.6,-5)(2010.8,20)(2011.0,0)(2011.4,25)(2011.6,10)(2011.8,20)(2012.0,-20)(2012.2,15)(2012.4,5)(2012.6,25)(2012.8,10)(2013.0,20)(2013.2,0)(2013.4,15)(2013.6,30)(2013.8,5)(2014.0,20)(2014.2,10)(2014.5,25)(2014.6,0)(2014.8,15)(2015.0,10)(2015.2,25)(2015.4,5)(2015.6,20)(2015.8,-5)(2015.9,30)(2016.0,15)(2016.1,25)(2016.2,10)(2016.3,30)(2016.4,20)(2016.5,35)(2016.6,5)(2016.7,25)(2016.8,15)(2016.9,30)(2017.0,10)(2017.1,25)(2017.2,-5)(2017.3,20)(2017.4,5)(2017.5,30)(2017.6,-10)(2017.7,15)(2017.8,-20)(2017.9,10)(2018.0,0)(2018.1,20)(2018.2,-15)(2018.3,5)(2018.4,-25)(2018.5,0)(2018.6,10)(2018.7,-20)(2018.8,5)(2018.9,-15)(2019.0,-30)(2019.1,0)(2019.2,-20)(2019.3,5)(2019.4,-10)(2019.5,-25)(2019.6,-5)(2019.7,-35)(2019.8,0)(2019.9,-15)(2020.0,-30)(2020.1,20)(2020.2,-20)(2020.3,-10)(2020.4,-35)(2020.5,-25)(2020.6,-5)(2020.7,-40)(2020.8,-20)(2020.9,-30)(2021.0,-15)(2021.1,-45)(2021.2,-25)(2021.3,-35)(2021.4,-15)(2021.5,-40)(2021.6,-30)(2021.7,-20)(2021.8,-45)(2021.9,-35)(2022.0,-25)(2022.1,-40)(2022.2,-30)(2022.3,-45)(2022.4,-35)};
\addplot[ser] coordinates {(2015.05,15)(2015.15,20)(2015.25,10)(2015.35,25)(2015.45,18)(2015.55,5)(2015.65,22)(2015.75,12)(2015.85,28)(2015.95,20)(2016.05,20)(2016.15,30)(2016.25,25)(2016.35,35)(2016.45,15)(2016.55,28)(2016.65,20)(2016.75,32)(2016.85,10)(2016.95,22)(2017.05,15)(2017.15,0)(2017.25,25)(2017.35,10)(2017.45,20)(2017.55,-5)(2017.65,25)(2017.75,-15)(2017.85,5)(2017.95,-10)(2018.05,15)(2018.15,-5)(2018.25,-20)(2018.35,10)(2018.45,-10)(2018.55,5)(2018.65,-15)(2018.75,-5)(2018.85,0)(2018.95,-25)(2019.05,-10)(2019.15,-25)(2019.25,-5)(2019.35,-15)(2019.45,-30)(2019.55,-20)(2019.65,-10)(2019.75,-30)(2019.85,-15)(2019.95,-20)(2020.05,-25)(2020.15,0)(2020.25,-35)(2020.35,-15)(2020.45,-30)(2020.55,-20)(2020.65,-40)(2020.75,-10)(2020.85,-35)(2020.95,-25)(2021.05,-35)(2021.15,-20)(2021.25,-40)(2021.35,-30)(2021.45,-25)(2021.55,-45)(2021.65,-35)(2021.75,-40)(2021.85,-28)(2021.95,-38)(2022.05,-30)(2022.15,-45)(2022.25,-35)(2022.35,-42)};
\end{axis}
% ---------- Transect 8
\begin{axis}[R, at={(325pt,108pt)}, height=32pt, ymin=-25.8, ymax=64.4, ytick={-20,0,20,40,60}, title={Transect No.8}]
\addplot[ser] coordinates {(1987.6,0)(1987.7,28)(1987.8,5)(1987.9,10)(1988.1,25)(1988.2,-2)(1988.3,15)(1988.4,5)(1988.5,18)(1988.6,25)(1988.7,15)(1988.9,5)(1990.0,25)(1990.4,12)(1990.7,20)(1991.0,30)(1991.2,20)(1991.4,25)(1991.5,5)(1991.6,0)(1991.8,15)(1991.9,25)(1992.1,30)(1992.4,20)(1992.7,25)(1993.4,15)(1993.8,35)(1994.0,30)(1994.3,10)(1994.6,25)(1994.8,35)(1995.0,20)(1995.2,-5)(1995.5,15)(1995.8,35)(1996.0,25)(1996.2,50)(1996.3,30)(1996.4,5)(1996.6,35)(1996.8,40)(1997.0,25)(1997.2,42)(1997.4,35)(1997.6,20)(1997.8,30)(1998.0,40)(1999.8,12)(2000.0,15)(2000.2,20)(2000.5,5)(2000.7,25)(2000.9,10)(2001.2,20)(2001.4,30)(2001.6,15)(2001.8,25)(2002.0,10)(2002.2,20)(2002.3,5)(2002.5,25)(2002.6,0)(2002.9,15)(2003.2,35)(2003.3,5)(2003.5,25)(2003.8,40)(2004.0,30)(2004.2,45)(2004.3,20)(2004.5,35)(2004.6,10)(2004.8,30)(2005.0,45)(2005.2,20)(2005.4,5)(2005.8,35)(2006.0,25)(2006.2,40)(2006.4,30)(2006.5,45)(2006.6,35)(2006.7,50)(2006.9,60)(2007.0,40)(2007.1,55)(2007.2,30)(2007.3,45)(2007.5,5)(2007.7,20)(2007.9,30)(2008.0,15)(2008.2,25)(2008.3,0)(2008.5,20)(2008.7,10)(2008.8,25)(2009.0,-5)(2009.2,15)(2009.4,30)(2009.6,5)(2009.8,35)(2010.0,20)(2010.3,0)(2010.5,10)(2010.8,15)(2011.0,25)(2011.4,15)(2012.0,18)(2012.3,45)(2012.4,0)(2012.6,15)(2012.8,5)(2013.0,25)(2013.2,-5)(2013.3,10)(2013.5,20)(2013.6,0)(2013.8,25)(2013.9,-5)(2014.1,15)(2014.3,20)(2014.5,5)(2014.7,25)(2015.0,10)(2015.1,0)(2015.2,20)(2015.4,5)(2015.5,25)(2015.7,10)(2015.8,-5)(2015.9,20)(2016.0,0)(2016.1,30)(2016.2,5)(2016.3,15)(2016.4,-5)(2016.5,25)(2016.6,10)(2016.7,0)(2016.8,20)(2017.0,-5)(2017.1,15)(2017.2,5)(2017.3,25)(2017.4,0)(2017.5,10)(2017.6,-10)(2017.7,15)(2017.8,5)(2018.0,-15)(2018.1,10)(2018.2,0)(2018.3,20)(2018.4,-5)(2018.5,15)(2018.6,-10)(2018.8,5)(2018.9,-22)(2019.0,5)(2019.1,25)(2019.2,0)(2019.3,15)(2019.4,-5)(2019.5,20)(2019.6,10)(2019.8,35)(2019.9,5)(2020.0,15)(2020.1,0)(2020.2,25)(2020.3,10)(2020.4,-5)(2020.5,20)(2020.6,5)(2020.7,15)(2020.8,0)(2020.9,25)(2021.0,-5)(2021.1,10)(2021.2,-12)(2021.3,5)(2021.4,15)(2021.5,0)(2021.6,30)(2021.7,5)(2021.8,10)(2021.9,0)(2022.0,15)(2022.1,5)(2022.2,10)};
\addplot[ser] coordinates {(2015.05,15)(2015.15,5)(2015.25,20)(2015.35,0)(2015.45,15)(2015.55,18)(2015.65,5)(2015.75,10)(2015.85,15)(2015.95,0)(2016.05,15)(2016.15,20)(2016.25,0)(2016.35,10)(2016.45,20)(2016.55,5)(2016.65,15)(2016.75,-5)(2016.85,10)(2016.95,15)(2017.05,5)(2017.15,20)(2017.25,-5)(2017.35,10)(2017.45,20)(2017.55,-8)(2017.65,5)(2017.75,10)(2017.85,0)(2017.95,15)(2018.05,0)(2018.15,5)(2018.25,10)(2018.35,-10)(2018.45,20)(2018.55,5)(2018.65,-5)(2018.75,10)(2018.85,15)(2018.95,0)(2019.05,15)(2019.15,10)(2019.25,-5)(2019.35,20)(2019.45,5)(2019.55,25)(2019.65,-5)(2019.75,15)(2019.85,20)(2019.95,10)(2020.05,5)(2020.15,20)(2020.25,-5)(2020.35,15)(2020.45,10)(2020.55,0)(2020.65,20)(2020.75,10)(2020.85,-5)(2020.95,15)(2021.05,5)(2021.15,15)(2021.25,0)(2021.35,10)(2021.45,-10)(2021.55,20)(2021.65,10)(2021.75,0)(2021.85,15)(2021.95,5)(2022.05,10)(2022.15,0)(2022.25,15)(2022.35,8)};
\end{axis}
% ---------- Transect 10
\begin{axis}[R, at={(325pt,57.5pt)}, height=32pt, ymin=-12.4, ymax=50, ytick={0,20,40}, title={Transect No.10}]
\addplot[ser] coordinates {(1987.6,0)(1987.8,20)(1987.9,22)(1988.1,15)(1988.3,18)(1988.5,25)(1988.6,20)(1988.8,8)(1990.0,15)(1990.3,8)(1990.7,12)(1991.0,20)(1991.2,15)(1991.5,-8)(1991.6,5)(1991.8,15)(1992.0,20)(1992.4,25)(1992.8,22)(1993.3,18)(1993.5,20)(1993.8,10)(1994.0,20)(1994.1,18)(1994.3,5)(1994.5,22)(1994.7,25)(1994.9,18)(1995.0,28)(1995.1,12)(1995.3,3)(1995.5,20)(1995.7,25)(1995.9,30)(1996.1,45)(1996.2,20)(1996.4,3)(1996.6,25)(1996.8,35)(1997.1,5)(1997.2,30)(1997.4,32)(1997.6,5)(1997.8,25)(1998.0,35)(1999.8,12)(2000.0,22)(2000.2,22)(2000.5,10)(2000.7,25)(2001.0,35)(2001.2,28)(2001.4,12)(2001.6,25)(2001.8,20)(2002.0,30)(2002.2,12)(2002.3,20)(2002.5,30)(2002.6,15)(2002.8,25)(2003.0,35)(2003.2,5)(2003.4,20)(2003.6,40)(2003.7,0)(2003.9,15)(2004.0,30)(2004.2,5)(2004.4,45)(2004.5,20)(2004.6,10)(2004.8,30)(2005.0,48)(2005.1,15)(2005.3,35)(2005.4,5)(2005.6,20)(2005.8,0)(2006.0,10)(2006.2,5)(2006.4,15)(2006.6,20)(2006.8,45)(2006.9,15)(2007.1,30)(2007.2,5)(2007.4,25)(2007.5,10)(2007.6,35)(2007.8,15)(2008.0,20)(2008.1,5)(2008.3,30)(2008.4,15)(2008.5,35)(2008.7,5)(2008.9,20)(2009.0,10)(2009.2,40)(2009.4,25)(2009.5,15)(2009.7,35)(2009.8,20)(2010.0,10)(2010.2,25)(2010.4,15)(2010.6,35)(2010.8,20)(2011.0,10)(2011.2,30)(2011.5,15)(2011.8,40)(2011.9,10)(2012.1,25)(2012.2,5)(2012.4,30)(2012.6,15)(2012.8,10)(2013.0,35)(2013.1,20)(2013.3,5)(2013.5,25)(2013.7,15)(2013.9,30)(2014.0,20)(2014.2,10)(2014.5,15)(2015.0,35)(2015.1,10)(2015.2,-5)(2015.3,20)(2015.5,25)(2015.6,-10)(2015.8,45)(2015.9,10)(2016.0,-10)(2016.1,30)(2016.2,5)(2016.3,20)(2016.4,-10)(2016.6,45)(2016.7,20)(2016.8,10)(2016.9,30)(2017.0,5)(2017.1,25)(2017.2,15)(2017.3,0)(2017.4,20)(2017.5,35)(2017.6,10)(2017.7,25)(2017.8,5)(2017.9,30)(2018.0,15)(2018.1,40)(2018.2,5)(2018.3,20)(2018.4,10)(2018.5,35)(2018.6,15)(2018.7,25)(2018.8,0)(2018.9,30)(2019.0,10)(2019.1,45)(2019.2,20)(2019.3,5)(2019.4,30)(2019.5,15)(2019.6,40)(2019.7,10)(2019.8,25)(2019.9,5)(2020.0,48)(2020.1,15)(2020.2,-5)(2020.3,30)(2020.4,10)(2020.5,35)(2020.6,20)(2020.7,5)(2020.8,25)(2020.9,15)(2021.0,30)(2021.1,10)(2021.2,40)(2021.3,15)(2021.4,5)(2021.5,25)(2021.6,45)(2021.7,10)(2021.8,30)(2021.9,15)(2022.0,25)(2022.1,10)(2022.2,20)};
\addplot[ser] coordinates {(2015.05,15)(2015.15,20)(2015.25,30)(2015.35,5)(2015.45,15)(2015.55,10)(2015.65,30)(2015.75,20)(2015.85,25)(2015.95,15)(2016.05,20)(2016.15,10)(2016.25,35)(2016.35,15)(2016.45,25)(2016.55,0)(2016.65,30)(2016.75,15)(2016.85,5)(2016.95,20)(2017.05,15)(2017.15,30)(2017.25,10)(2017.35,25)(2017.45,5)(2017.55,20)(2017.65,30)(2017.75,15)(2017.85,20)(2017.95,10)(2018.05,25)(2018.15,10)(2018.25,30)(2018.35,20)(2018.45,5)(2018.55,25)(2018.65,10)(2018.75,30)(2018.85,20)(2018.95,15)(2019.05,20)(2019.15,30)(2019.25,10)(2019.35,35)(2019.45,15)(2019.55,25)(2019.65,5)(2019.75,30)(2019.85,20)(2019.95,35)(2020.05,25)(2020.15,5)(2020.25,20)(2020.35,15)(2020.45,25)(2020.55,10)(2020.65,30)(2020.75,15)(2020.85,35)(2020.95,20)(2021.05,20)(2021.15,25)(2021.25,15)(2021.35,30)(2021.45,20)(2021.55,35)(2021.65,15)(2021.75,25)(2021.85,20)(2021.95,15)(2022.05,15)(2022.15,25)(2022.25,15)(2022.35,20)};
\end{axis}
% ---------- annotations
\node[anchor=base west, inner sep=0pt, font=\tnr\fontsize{11}{12}\selectfont] at (28.5pt,163.5pt) {Left bank of Kovalam Basin};
\draw[black!70, line width=0.5pt] (28.5pt,161.3pt) -- (164pt,161.3pt);
\node[anchor=base west, inner sep=0pt, text=erob, font=\tnr\fontsize{12.5}{13}\selectfont] at (188.5pt,149pt) {Erosion};
\draw[erob, dashed, line width=0.7pt, -{Triangle[open, length=5pt, width=5pt]}] (200pt,184.5pt) .. controls (212pt,182pt) and (220pt,174pt) .. (222.5pt,159.5pt);
\node[anchor=base west, inner sep=0pt, font=\tnr\fontsize{11}{12}\selectfont] at (328.5pt,230pt) {Right bank of Kovalam Basin};
\draw[black!70, line width=0.5pt] (328.5pt,227.8pt) -- (469pt,227.8pt);
\node[anchor=base west, inner sep=0pt, text=accr, font=\tnr\fontsize{13}{14}\selectfont] at (469pt,235pt) {Accretion};
\draw[accr, dashed, line width=0.7pt, -{Triangle[open, length=5pt, width=5pt]}] (505pt,222pt) -- (544pt,241pt);
\node[anchor=base west, inner sep=0pt, text=erob, font=\tnr\fontsize{13.5}{14}\selectfont] at (513.5pt,187pt) {Erosion};
\draw[erob, dashed, line width=0.7pt, -{Triangle[open, length=5pt, width=5pt]}] (506.5pt,183.5pt) .. controls (520pt,176pt) and (535pt,168pt) .. (548.5pt,159.5pt);
\end{tikzpicture}
\end{document}
